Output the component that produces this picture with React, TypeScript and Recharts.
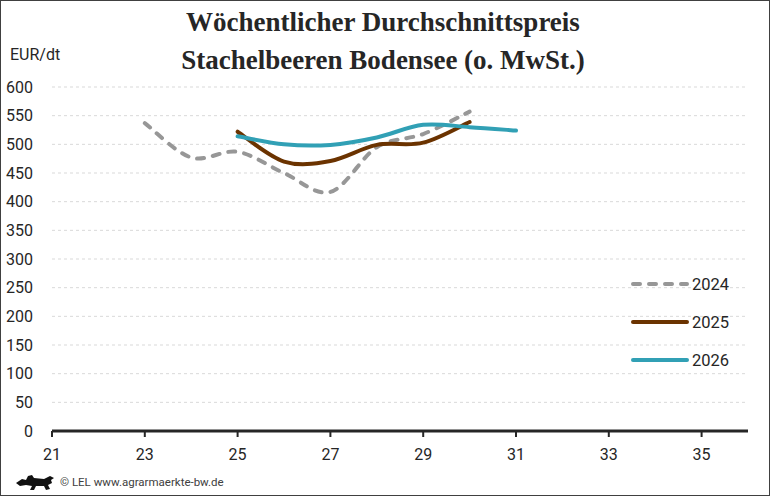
import React from 'react';
import { LineChart, Line, XAxis, YAxis, CartesianGrid } from 'recharts';

// Kalenderwochen und Wochenpreise (EUR/dt)
const weeks = [23, 24, 25, 26, 27, 28, 29, 30, 31];
const price2024 = [537, 477, 487, 450, 417, 495, 518, 557, null];
const price2025 = [null, null, 522, 470, 471, 499, 503, 539, null];
const price2026 = [null, null, 514, 500, 499, 512, 534, 530, 524];

const xTicks = [21, 23, 25, 27, 29, 31, 33, 35];
const yTicks = [0, 50, 100, 150, 200, 250, 300, 350, 400, 450, 500, 550, 600];

const data = weeks.map((kw, i) => ({
  kw,
  y2024: price2024[i],
  y2025: price2025[i],
  y2026: price2026[i],
}));

const series = [
  { key: 'y2024', name: '2024', color: '#979797', dash: '7 9' },
  { key: 'y2025', name: '2025', color: '#6b3300', dash: undefined },
  { key: 'y2026', name: '2026', color: '#31a0b5', dash: undefined },
];

const sans = 'Roboto, "Liberation Sans", sans-serif';
const ink = '#262626';

// Excel-artige Glättung (Catmull-Rom), als d3-Curve-Factory
const smoothCurve = (context: any) => {
  let pts: number[][] = [];
  return {
    areaStart() {},
    areaEnd() {},
    lineStart() {
      pts = [];
    },
    point(x: number, y: number) {
      pts.push([+x, +y]);
    },
    lineEnd() {
      const n = pts.length;
      if (!n) return;
      context.moveTo(pts[0][0], pts[0][1]);
      for (let i = 0; i < n - 1; i++) {
        const p0 = pts[i - 1] || pts[i];
        const p1 = pts[i];
        const p2 = pts[i + 1];
        const p3 = pts[i + 2] || p2;
        context.bezierCurveTo(
          p1[0] + (p2[0] - p0[0]) / 6,
          p1[1] + (p2[1] - p0[1]) / 6,
          p2[0] - (p3[0] - p1[0]) / 6,
          p2[1] - (p3[1] - p1[1]) / 6,
          p2[0],
          p2[1]
        );
      }
    },
  };
};

const YTick = ({ y, payload }: any) => (
  <text x={33} y={y} textAnchor="end" dominantBaseline="central" fill={ink} fontSize={16} fontFamily={sans}>
    {payload.value}
  </text>
);

export default function App() {
  return (
    <div style={{ position: 'absolute', left: 0, top: 0, width: 770, height: 496, background: '#fff' }}>
      <LineChart width={770} height={496} data={data} margin={{ top: 87, right: 22, bottom: 0, left: 0 }}>
        <CartesianGrid vertical={false} stroke="#d9d9d9" strokeDasharray="3 3" />
        <XAxis
          dataKey="kw"
          type="number"
          domain={[21, 36]}
          ticks={xTicks}
          interval={0}
          height={65}
          axisLine={{ stroke: ink, strokeWidth: 3 }}
          tickLine={{ stroke: ink, strokeWidth: 2 }}
          tickSize={6}
          tickMargin={12}
          tick={{ fill: ink, fontSize: 16, fontFamily: sans }}
        />
        <YAxis
          type="number"
          domain={[0, 600]}
          ticks={yTicks}
          interval={0}
          width={52}
          axisLine={false}
          tickLine={false}
          tick={<YTick />}
        />
        {series.map((s) => (
          <Line
            key={s.key}
            dataKey={s.key}
            name={s.name}
            type={smoothCurve as any}
            stroke={s.color}
            strokeWidth={4}
            strokeDasharray={s.dash}
            strokeLinecap="round"
            dot={false}
            isAnimationActive={false}
          />
        ))}
      </LineChart>

      <div style={{ position: 'absolute', left: 630, top: 265, fontFamily: sans, fontSize: 16.5, color: ink }}>
        {series.map((s) => (
          <div key={s.key} style={{ height: 38, display: 'flex', alignItems: 'center' }}>
            <svg width={62} height={10} style={{ display: 'block' }}>
              <line x1={3} y1={5} x2={57} y2={5} stroke={s.color} strokeWidth={4} strokeLinecap="round" strokeDasharray={s.dash} />
            </svg>
            <span>{s.name}</span>
          </div>
        ))}
      </div>

      <div
        style={{
          position: 'absolute',
          left: 0,
          top: 3,
          width: 766,
          textAlign: 'center',
          fontFamily: '"Liberation Serif", "DejaVu Serif", serif',
          fontWeight: 'bold',
          fontSize: 27,
          lineHeight: '38px',
          color: ink,
        }}
      >
        <div>Wöchentlicher Durchschnittspreis</div>
        <div>Stachelbeeren Bodensee (o. MwSt.)</div>
      </div>

      <div style={{ position: 'absolute', left: 10, top: 45, fontFamily: sans, fontSize: 16, lineHeight: '20px', color: ink }}>
        EUR/dt
      </div>

      <svg width={44} height={22} style={{ position: 'absolute', left: 14, top: 471 }}>
        <path
          d="M2 12 L8 8 L12 9 L14 5 L18 4 L20 7 L30 8 L36 5 L40 7 L37 9 L38 12 L34 14 L36 18 L32 19 L30 15 L22 15 L20 19 L16 19 L18 15 L12 14 L6 15 Z"
          fill="#111"
        />
      </svg>
      <div style={{ position: 'absolute', left: 60, top: 474, fontFamily: sans, fontSize: 11.5, lineHeight: '16px', color: '#404040' }}>
        © LEL www.agrarmaerkte-bw.de
      </div>

      <div
        style={{
          position: 'absolute',
          left: 0,
          top: 0,
          width: 770,
          height: 496,
          boxSizing: 'border-box',
          border: '1px solid #404040',
          pointerEvents: 'none',
        }}
      />
    </div>
  );
}
